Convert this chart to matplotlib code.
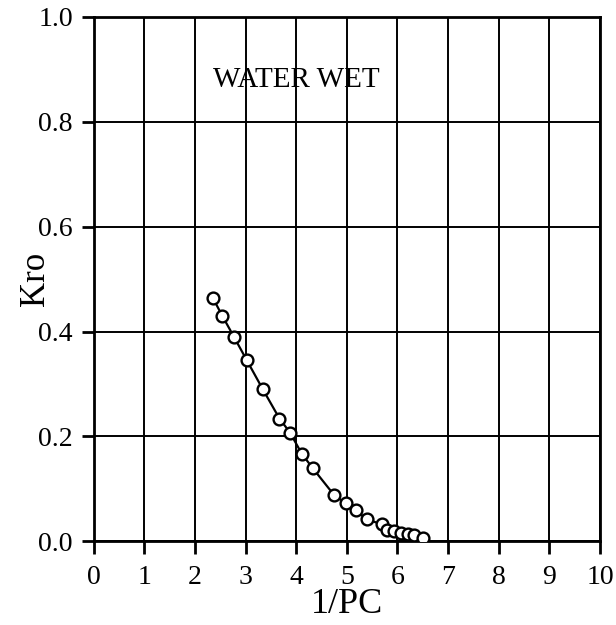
import matplotlib
matplotlib.use('Agg')
import matplotlib.pyplot as plt

plt.rcParams['font.family'] = ['Liberation Serif', 'DejaVu Serif']

inv_pc = [2.36, 2.54, 2.77, 3.02, 3.34, 3.67, 3.88, 4.11, 4.33, 4.75, 4.98,
          5.18, 5.39, 5.70, 5.80, 5.94, 6.07, 6.20, 6.33, 6.50]
kro = [0.463, 0.430, 0.390, 0.346, 0.290, 0.234, 0.207, 0.167, 0.139, 0.088,
       0.072, 0.059, 0.042, 0.032, 0.022, 0.019, 0.016, 0.013, 0.011, 0.006]

x_ticks = list(range(0, 11))
y_ticks = [0.0, 0.2, 0.4, 0.6, 0.8, 1.0]

fig = plt.figure(figsize=(6.16, 6.25), dpi=100)
ax = fig.add_axes([0.152, 0.134, 0.822, 0.839])

ax.plot(inv_pc, kro, color='black', linewidth=1.6, marker='o', markersize=8.5,
        markerfacecolor='white', markeredgecolor='black', markeredgewidth=1.7,
        zorder=3)

ax.set_xlim(0, 10)
ax.set_ylim(0, 1)
ax.set_xticks(x_ticks)
ax.set_yticks(y_ticks)
ax.set_yticklabels([f'{v:.1f}' for v in y_ticks])
ax.grid(True, color='black', linewidth=1.4)
ax.set_axisbelow(True)
for s in ax.spines.values():
    s.set_linewidth(2)
ax.tick_params(direction='out', length=9, width=2, labelsize=20, pad=6)
ax.tick_params(axis='x', pad=8)

ax.set_xlabel('1/PC', fontsize=26, labelpad=-1)
ax.set_ylabel('Kro', fontsize=25, labelpad=-10)
ax.text(4.0, 0.88, 'WATER WET', fontsize=21, ha='center', va='center')

fig.savefig('out.png', dpi=100)
